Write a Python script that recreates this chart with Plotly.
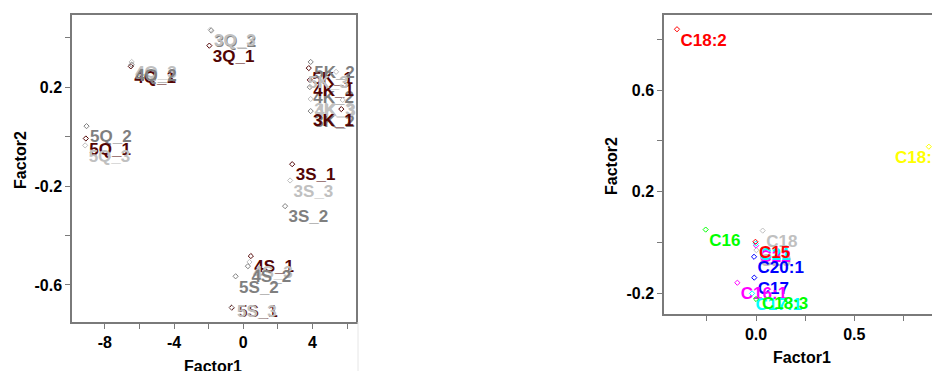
import plotly.graph_objects as go

W, H = 932, 371

# ---------------- Left panel: sample scores ----------------
score_labels = ["3Q_1", "3Q_2", "3Q_3",
                "4Q_1", "4Q_3", "4Q_2",
                "5Q_2", "5Q_1", "5Q_3",
                "5K_1", "5K_2", "5K_3",
                "4K_2", "4K_1", "4K_3",
                "3K_3", "3K_1", "3K_2",
                "3S_1", "3S_3", "3S_2",
                "4S_1", "4S_3", "4S_2",
                "5S_2", "5S_1", "5S_3"]
score_f1 = [-1.96, -1.85, -1.89,
            -6.50, -6.45, -6.45,
            -9.06, -9.10, -9.14,
            3.79, 3.90, 5.37,
            3.85, 3.85, 5.75,
            3.90, 5.67, 3.90,
            2.83, 2.71, 2.42,
            0.44, 0.36, 0.27,
            -0.44, -0.66, -0.68]
score_f2 = [0.369, 0.430, 0.434,
            0.285, 0.303, 0.292,
            0.043, -0.007, -0.035,
            0.278, 0.303, 0.263,
            0.201, 0.230, 0.149,
            0.153, 0.112, 0.104,
            -0.111, -0.177, -0.281,
            -0.483, -0.507, -0.524,
            -0.565, -0.692, -0.690]
rep_colors = {"1": "#520404", "2": "#7f7f7f", "3": "#c0c0c0"}
score_colors = [rep_colors[s[-1]] for s in score_labels]

# ---------------- Right panel: fatty-acid loadings ----------------
fa_labels = ["C18:2", "C18:1", "C16", "C18", "C20", "C22", "C21", "C15",
             "C20:1", "C17", "C16:1", "C17:1", "C18:3"]
fa_f1 = [-0.402, 0.879, -0.256, 0.034, 0.002, 0.0, -0.001, -0.003,
         -0.010, -0.009, -0.095, -0.020, 0.000]
fa_f2 = [0.839, 0.377, 0.051, 0.047, -0.030, -0.012, -0.004, 0.003,
         -0.056, -0.138, -0.158, -0.200, -0.222]
fa_colors = ["#ff0000", "#ffff00", "#00ff00", "#c0c0c0", "#c0c0c0", "#ff00ff",
             "#00ffff", "#ff0000", "#0000ff", "#0000ff", "#ff00ff", "#00ffff",
             "#00ff00"]

# tick definitions
l_xticks = [-8, -4, 0, 4]
l_xticktext = ["-8", "-4", "0", "4"]
l_xminor = [-6, -2, 2, 6]
l_yticks = [0.2, -0.2, -0.6]
l_yticktext = ["0.2", "-0.2", "-0.6"]
l_yminor = [0.4, 0.0, -0.4]
r_xticks = [0.0, 0.5]
r_xticktext = ["0.0", "0.5"]
r_xminor = [-0.25, 0.25, 0.75]
r_yticks = [0.6, 0.2, -0.2]
r_yticktext = ["0.6", "0.2", "-0.2"]
r_yminor = [0.8, 0.4, 0.0]

FONT = "Liberation Sans, Arial, sans-serif"
AX = "#7a7a7a"
LBL = 17

def px_x(p):
    return p / W

def px_y(p):
    return 1 - p / H

fig = go.Figure()

def add_points(xs, ys, labels, colors, xa, ya, right_limit, shift, bottom_limit):
    inl = [i for i in range(len(xs)) if xs[i] <= right_limit and ys[i] >= bottom_limit]
    adj = [i for i in range(len(xs)) if i not in inl]
    # regular points: marker with label at its bottom right
    fig.add_trace(go.Scatter(
        x=[xs[i] for i in inl], y=[ys[i] for i in inl], text=[labels[i] for i in inl],
        mode="markers+text", textposition="bottom right",
        marker=dict(symbol="diamond-open", size=4, color=[colors[i] for i in inl], line=dict(width=1)),
        textfont=dict(family=FONT, size=LBL, color=[colors[i] for i in inl], weight="bold"),
        xaxis=xa, yaxis=ya, showlegend=False, hoverinfo="skip"))
    if adj:
        fig.add_trace(go.Scatter(
            x=[xs[i] for i in adj], y=[ys[i] for i in adj], mode="markers",
            marker=dict(symbol="diamond-open", size=4, color=[colors[i] for i in adj], line=dict(width=1)),
            xaxis=xa, yaxis=ya, showlegend=False, hoverinfo="skip"))
    for i in adj:
        # labels near the right / bottom edge are pulled back inside the frame
        dx = shift if xs[i] > right_limit else 4
        dy = -4 if ys[i] < bottom_limit else -11
        fig.add_annotation(text=labels[i], xref=xa, yref=ya, x=xs[i], y=ys[i],
                           xanchor="left", yanchor="middle", xshift=dx, yshift=dy,
                           showarrow=False,
                           font=dict(family=FONT, size=LBL, color=colors[i], weight="bold"))

add_points(score_f1, score_f2, score_labels, score_colors, "x", "y", 5.0, -30, -0.66)
add_points(fa_f1, fa_f2, fa_labels, fa_colors, "x2", "y2", 0.8, -36, -0.21)

def axis(domain, rng, tv, tt, minor, anchor, mirror):
    return dict(domain=domain, range=rng, anchor=anchor, showgrid=False, zeroline=False,
                automargin=False,
                showline=True, linecolor=AX, linewidth=1.5, mirror=mirror,
                ticks="outside", ticklen=5, tickcolor=AX, tickwidth=1,
                tickmode="array", tickvals=tv, ticktext=tt,
                minor=dict(tickmode="array", tickvals=minor, ticks="outside",
                           ticklen=5, tickcolor=AX, tickwidth=1, showgrid=False),
                tickfont=dict(family=FONT, size=16, color="black", weight="bold"))

L_x0, L_x1, L_y0, L_y1 = 72, 356, 15, 322
R_x0, R_y0, R_y1 = 664, 15, 314

fig.update_layout(
    width=W, height=H, margin=dict(l=0, r=0, t=0, b=0, autoexpand=False),
    paper_bgcolor="white", plot_bgcolor="white",
    xaxis=axis([px_x(L_x0), px_x(L_x1)], [-9.9, 6.52], l_xticks, l_xticktext, l_xminor, "y", True),
    yaxis=axis([px_y(L_y1), px_y(L_y0)], [-0.75, 0.493], l_yticks, l_yticktext, l_yminor, "x", True),
    xaxis2=axis([px_x(R_x0), 1.0], [-0.468, 0.895], r_xticks, r_xticktext, r_xminor, "y2", True),
    yaxis2=axis([px_y(R_y1), px_y(R_y0)], [-0.281, 0.895], r_yticks, r_yticktext, r_yminor, "x2", False),
)

titles = [("Factor1", 213, 366, 0), ("Factor2", 20, 160, -90),
          ("Factor1", 802, 357, 0), ("Factor2", 611, 166, -90)]
for txt, x, y, ang in titles:
    fig.add_annotation(text=txt, xref="paper", yref="paper", x=px_x(x), y=px_y(y),
                       showarrow=False, textangle=ang, xanchor="center", yanchor="middle",
                       font=dict(family=FONT, size=16, color="black", weight="bold"))

fig.add_shape(type="line", xref="paper", yref="paper",
              x0=px_x(358), x1=px_x(358), y0=px_y(322), y1=0,
              line=dict(color="#e6e6e6", width=1))

fig.write_html("out.html", config={"displayModeBar": False},
               post_script="document.body.style.margin='0';document.body.style.overflow='hidden';")
